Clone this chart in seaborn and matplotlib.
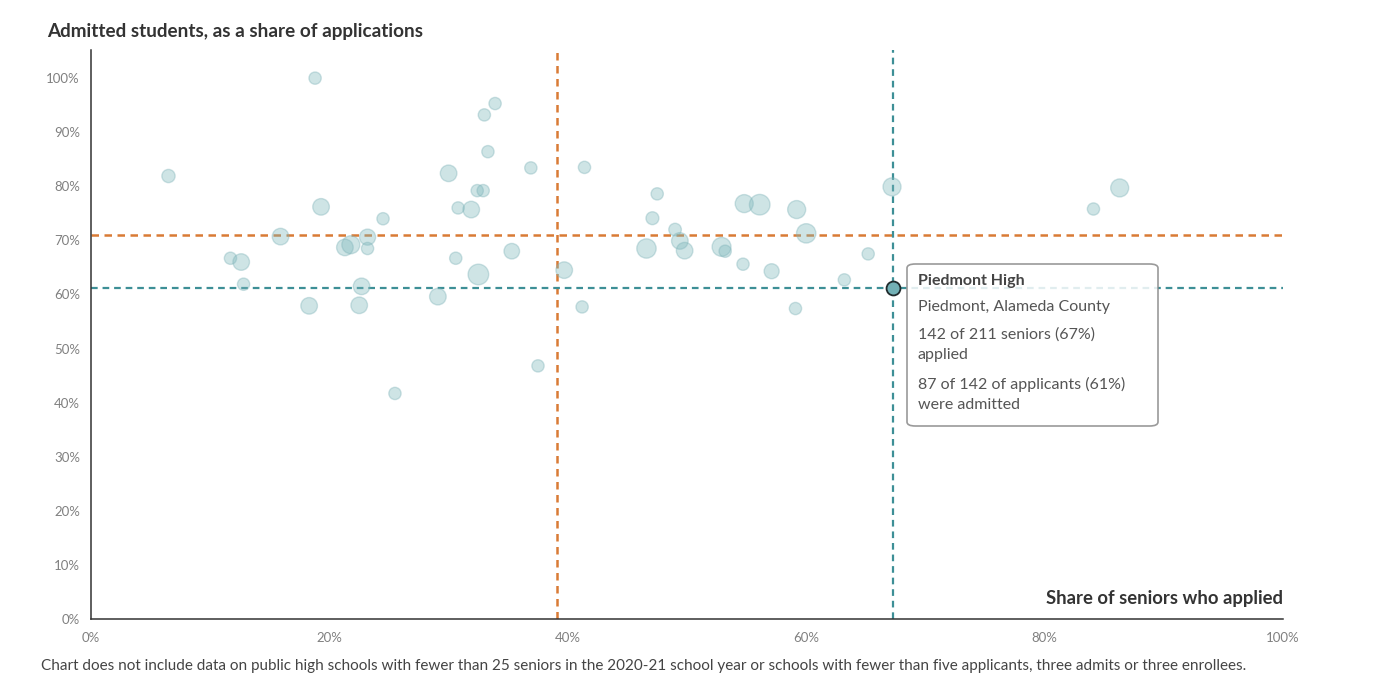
import matplotlib
matplotlib.use('Agg')
import matplotlib.pyplot as plt
import seaborn as sns
import pandas as pd
from matplotlib.patches import FancyBboxPatch
from matplotlib.ticker import FuncFormatter, MultipleLocator

# share of seniors who applied (%), admitted share of applicants (%), seniors (marker size)
applied = [6.5, 18.8, 19.3, 15.9, 11.7, 12.6, 12.8, 18.3, 21.3, 21.8,
           23.2, 23.2, 24.5, 22.7, 22.5, 25.5, 30.0, 30.8, 31.9, 32.4,
           32.9, 33.0, 33.9, 33.3, 30.6, 32.5, 29.1, 35.3, 36.9, 37.5,
           39.7, 41.4, 41.2, 47.5, 47.1, 49.0, 46.6, 49.4, 49.8, 52.9,
           53.2, 54.7, 54.8, 56.1, 57.1, 59.2, 60.0, 59.1, 63.2, 65.2,
           67.2, 84.1, 86.3]
admitted = [81.9, 100.0, 76.2, 70.7, 66.7, 66.0, 61.9, 57.9, 68.7, 69.2,
            70.6, 68.5, 74.0, 61.5, 58.0, 41.7, 82.4, 76.0, 75.7, 79.2,
            79.2, 93.2, 95.3, 86.4, 66.7, 63.7, 59.6, 68.0, 83.4, 46.8,
            64.5, 83.5, 57.7, 78.6, 74.1, 72.0, 68.5, 69.9, 68.1, 68.8,
            68.0, 65.6, 76.8, 76.6, 64.3, 75.7, 71.3, 57.4, 62.7, 67.5,
            79.9, 75.8, 79.7]
seniors = [180, 150, 300, 300, 150, 300, 150, 300, 300, 360,
           280, 150, 150, 300, 300, 140, 300, 150, 300, 150,
           150, 150, 150, 140, 150, 480, 300, 260, 140, 140,
           300, 150, 150, 140, 170, 160, 420, 300, 300, 400,
           140, 140, 360, 480, 240, 360, 420, 140, 150, 130,
           360, 130, 360]

median_applied = 39.1
median_admitted = 71.0
hl_name = 'Piedmont High'
hl_applied = 67.3
hl_admitted = 61.2
tooltip_lines = ['Piedmont, Alameda County', '142 of 211 seniors (67%)', 'applied',
                 '87 of 142 of applicants (61%)', 'were admitted']

df = pd.DataFrame({'applied': applied, 'admitted': admitted, 'seniors': seniors})

sns.set_theme(style='white')
plt.rcParams['font.family'] = ['Lato', 'DejaVu Sans']

fig = plt.figure(figsize=(14, 6.75), dpi=100)
ax = fig.add_axes([91 / 1400, 1 - 619 / 675, 1192 / 1400, 569 / 675])

teal = '#3d8f96'
orange = '#d97b35'

ax.axvline(median_applied, color=orange, ls=(0, (3, 2.2)), lw=1.8, zorder=1)
ax.axhline(median_admitted, color=orange, ls=(0, (3, 2.2)), lw=1.8, zorder=1)
ax.axvline(hl_applied, color=teal, ls=(0, (3, 2.2)), lw=1.6, zorder=1)
ax.axhline(hl_admitted, color=teal, ls=(0, (3, 2.2)), lw=1.6, zorder=1)

sns.scatterplot(data=df, x='applied', y='admitted', size='seniors',
                sizes=(78, 220), size_norm=(150, 480), color='#7fb8bd',
                alpha=0.38, edgecolor='#7fb3b8', linewidth=1.0, legend=False,
                ax=ax, zorder=2)
ax.scatter([hl_applied], [hl_admitted], s=100, color='#72b0b5',
           edgecolor='#1f2a2c', linewidth=1.3, zorder=4)

ax.set_xlim(0, 100)
ax.set_ylim(0, 105.2)
ax.xaxis.set_major_locator(MultipleLocator(20))
ax.yaxis.set_major_locator(MultipleLocator(10))
pct = FuncFormatter(lambda v, p: f'{v:.0f}%')
ax.xaxis.set_major_formatter(pct)
ax.yaxis.set_major_formatter(pct)
ax.tick_params(axis='both', direction='out', length=5, width=1, color='#333333',
               labelcolor='#808080', labelsize=9.5)
ax.tick_params(axis='x', pad=3, length=6)
ax.tick_params(axis='y', pad=3)
for s in ['top', 'right']:
    ax.spines[s].set_visible(False)
for s in ['left', 'bottom']:
    ax.spines[s].set_color('#333333')
    ax.spines[s].set_linewidth(1.1)
ax.set_xlabel('')
ax.set_ylabel('')

fig.text(47 / 1400, 1 - 32 / 675, 'Admitted students, as a share of applications',
         fontsize=13.6, fontweight='bold', color='#333333', va='center', ha='left')
ax.text(100, 2.2, 'Share of seniors who applied', fontsize=13.3, fontweight='bold',
        color='#333333', ha='right', va='bottom')

# tooltip
box = FancyBboxPatch((907 / 1400, 1 - 426 / 675), 251 / 1400, 162 / 675,
                     boxstyle='round,pad=0,rounding_size=0.006',
                     transform=fig.transFigure, facecolor='white', alpha=0.85,
                     edgecolor='#888888', linewidth=1.2, zorder=5)
fig.patches.append(box)
fig.text(918 / 1400, 1 - 281 / 675, hl_name, fontsize=11.5, fontweight='bold',
         color='#444444', va='center', ha='left', zorder=6)
for txt, yy in zip(tooltip_lines, [307, 335, 355, 384, 405]):
    fig.text(918 / 1400, 1 - yy / 675, txt, fontsize=11.5, color='#555555',
             va='center', ha='left', zorder=6)

fig.text(41 / 1400, 2 / 675,
         'Chart does not include data on public high schools with fewer than 25 seniors in the 2020-21 school year '
         'or schools with fewer than five applicants, three admits or three enrollees.',
         fontsize=11, color='#444444', va='bottom', ha='left')

fig.savefig('out.png', dpi=100)
